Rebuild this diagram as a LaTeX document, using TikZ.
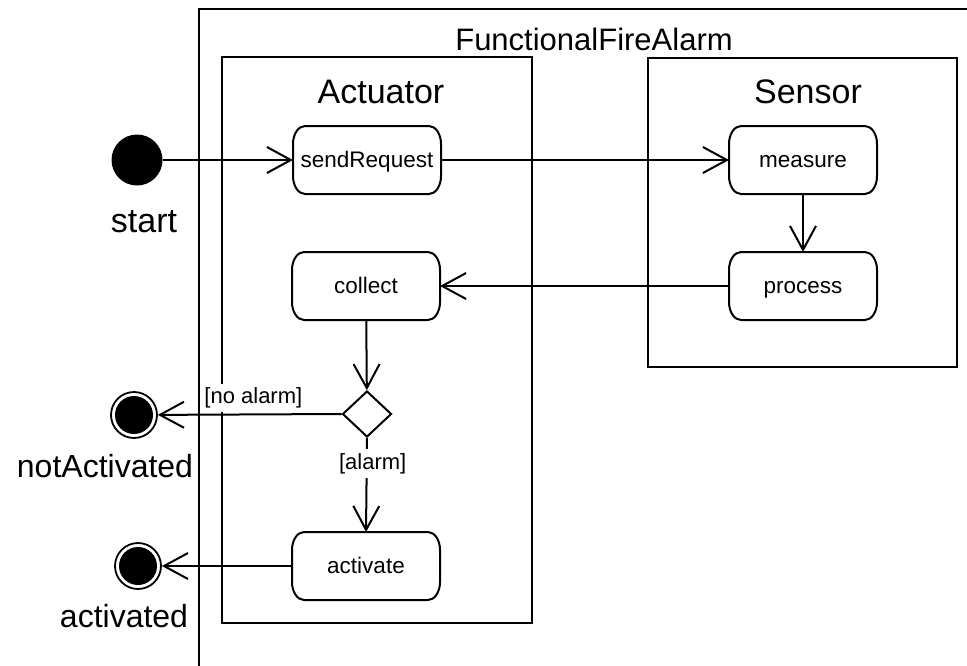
\documentclass[tikz,border=0pt]{standalone}
\usepackage{fontspec}
\setmainfont{Liberation Sans}
\usetikzlibrary{arrows.meta,shapes.geometric}
\newcommand\actframe[1]{%
  \draw[line width=2pt] ([xshift=12pt]#1.north west) -- ([xshift=-12pt]#1.north east)
    arc[start angle=90,end angle=0,x radius=12pt,y radius=18pt]
    -- ([yshift=18pt]#1.south east)
    arc[start angle=0,end angle=-90,x radius=12pt,y radius=18pt]
    -- ([xshift=12pt]#1.south west)
    arc[start angle=270,end angle=180,x radius=12pt,y radius=18pt]
    -- ([yshift=-18pt]#1.north west)
    arc[start angle=180,end angle=90,x radius=12pt,y radius=18pt] -- cycle;}
\begin{document}
\begin{tikzpicture}[x=1pt,y=-1pt,
  frame/.style={draw,line width=2.3pt},
  act/.style={minimum width=146pt,minimum height=66pt,inner sep=0pt,outer sep=1pt,text height=17pt,text depth=2pt,font=\fontsize{22.5}{26}\selectfont},
  conn/.style={line width=2pt,-{Straight Barb[length=24pt,width=26pt,line width=2pt]}},
  guard/.style={fill=white,inner sep=4pt,font=\fontsize{22}{26}\selectfont},
  bigtxt/.style={anchor=base,inner sep=0pt,font=\fontsize{#1}{#1}\selectfont},
  initial/.style={circle,fill=black,minimum size=51pt,inner sep=0pt},
  final/.style={circle,draw,line width=1.8pt,minimum size=46pt,inner sep=0pt,
    path picture={\fill[black] (path picture bounding box.center) circle (19pt);}},
  decision/.style={diamond,draw,line width=2pt,minimum width=49pt,minimum height=46pt,inner sep=0pt}
]
\useasboundingbox (0,0) rectangle (967,665);
% frames
\draw[frame] (199,680) |- (990,9);
\draw[frame] (222,57) rectangle (532,623);
\draw[frame] (648,58) rectangle (957,367);
\node[bigtxt=31] (tfa) at (594,50) {FunctionalFireAlarm};
\node[bigtxt=34] (tact) at (381,103) {Actuator};
\node[bigtxt=34] (tsen) at (808,103) {Sensor};
% nodes
\node[initial] (start) at (137,160) {};
\node[bigtxt=34] (lstart) at (144,232) {start};
\node[act] (send) at (367,160) {sendRequest};
\node[act] (measure) at (803,160) {measure};
\node[act] (process) at (803,286) {process};
\node[act] (collect) at (366,286) {collect};
\node[decision] (dec) at (367,414) {};
\node[act] (activate) at (366,566) {activate};
\actframe{send}
\actframe{measure}
\actframe{process}
\actframe{collect}
\actframe{activate}
\node[final] (nact) at (134,415) {};
\node[bigtxt=32] (lnact) at (105,477) {notActivated};
\node[final] (actd) at (138,566) {};
\node[bigtxt=32] (lactd) at (124,627) {activated};
% connectors
\draw[conn] (start) -- (send);
\draw[conn] (send) -- (measure);
\draw[conn] (measure) -- (process);
\draw[conn] (process) -- (collect);
\draw[conn] (collect) -- (dec);
\draw[conn] (dec.west) -- node[guard,pos=0.48,above=1pt] {[no alarm]} (nact);
\draw[conn] (dec.south) -- node[guard,pos=0.27,xshift=6pt] {[alarm]} (activate.north);
\draw[conn] (activate) -- (actd);
\end{tikzpicture}
\end{document}
